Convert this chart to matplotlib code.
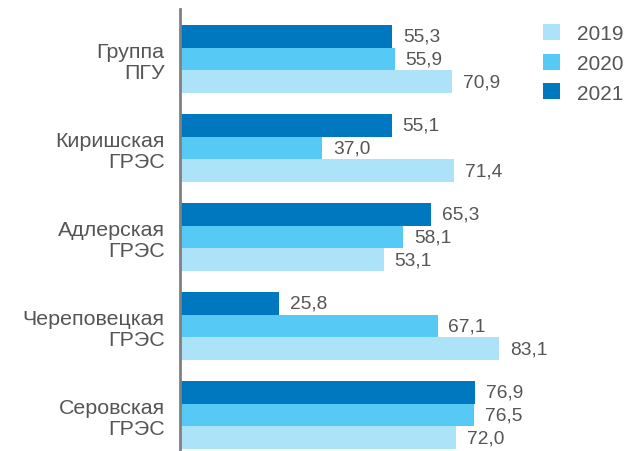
import numpy as np
import matplotlib
matplotlib.use('Agg')
import matplotlib.pyplot as plt

plt.rcParams['font.family'] = ['Liberation Sans', 'DejaVu Sans']

# data
categories = ['Группа\nПГУ', 'Киришская\nГРЭС', 'Адлерская\nГРЭС',
              'Череповецкая\nГРЭС', 'Серовская\nГРЭС']
years = ['2019', '2020', '2021']
v2019 = [70.9, 71.4, 53.1, 83.1, 72.0]
v2020 = [55.9, 37.0, 58.1, 67.1, 76.5]
v2021 = [55.3, 55.1, 65.3, 25.8, 76.9]

colors = {'2019': '#ade3f9', '2020': '#57c9f5', '2021': '#0078bf'}
text_col = '#555555'

W, H = 631, 452
fig = plt.figure(figsize=(W / 100, H / 100), dpi=100)
left = 180 / W
ax = fig.add_axes([left, 0, 1 - left, 1 - 10 / H])

y = np.arange(len(categories))
bh = 0.255
series = [('2021', v2021, -bh), ('2020', v2020, 0), ('2019', v2019, bh)]
for name, vals, off in series:
    bars = ax.barh(y + off, vals, height=bh, color=colors[name], label=name)
    for b, v in zip(bars, vals):
        ax.text(b.get_width() + 2.8, b.get_y() + b.get_height() / 2,
                f'{v:.1f}'.replace('.', ','), va='center', ha='left',
                fontsize=13.8, color=text_col)

ax.set_xlim(0, (W - 180) / 3.84)
ax.set_ylim(4.404, -0.562)
ax.set_yticks(y)
ax.set_yticklabels(categories, fontsize=15.4, color=text_col,
                   multialignment='right', linespacing=1.12)
ax.tick_params(axis='y', length=0, pad=11)
ax.set_xticks([])
for s in ['top', 'right', 'bottom']:
    ax.spines[s].set_visible(False)
ax.spines['left'].set_color('#808080')
ax.spines['left'].set_linewidth(2)

handles, labels = ax.get_legend_handles_labels()
order = [labels.index(n) for n in years]
leg = ax.legend([handles[i] for i in order], [labels[i] for i in order],
                loc='upper left', bbox_to_anchor=(533 / W, 1 - 15 / H),
                bbox_transform=fig.transFigure, frameon=False,
                fontsize=15, handlelength=0.78, handleheight=0.78,
                handletextpad=0.85, labelspacing=0.5, borderpad=0)
for t in leg.get_texts():
    t.set_color(text_col)

fig.savefig('out.png', dpi=100)
